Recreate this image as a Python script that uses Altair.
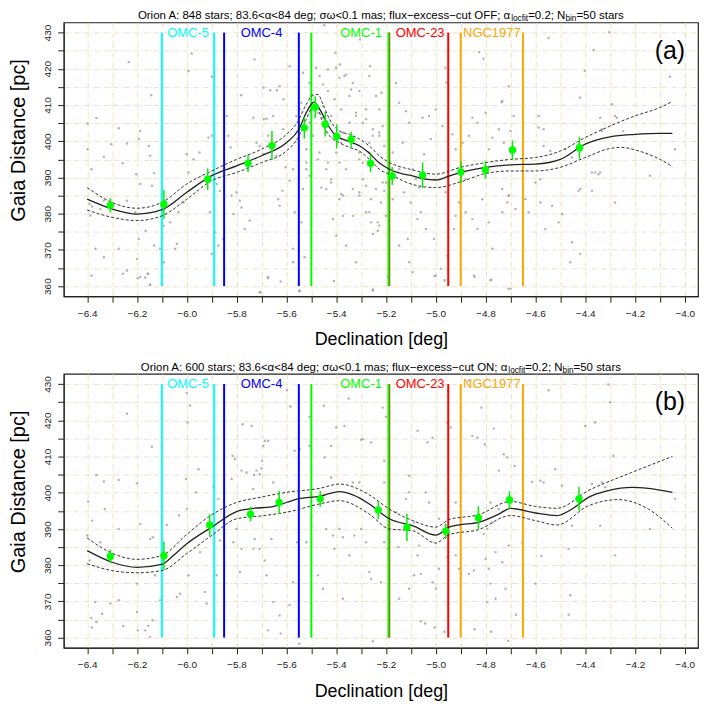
import altair as alt
import pandas as pd

FONT = "Liberation Sans"

# ---------------- data ----------------
region_names = ["OMC-5", "OMC-4", "OMC-1", "OMC-23", "NGC1977"]
region_lo = [-6.10, -5.85, -5.50, -5.187, -4.90]
region_hi = [-5.89, -5.55, -5.19, -4.95, -4.65]
region_label_x = [-5.995, -5.70, -5.30, -5.063, -4.775]
region_colors = ["#00FFFF", "#0000FF", "#00FF00", "#FF0000", "#FFA500"]

x_ticks = [round(-6.4 + 0.1 * i, 1) for i in range(25)]
y_ticks = list(range(360, 431, 5))

# panel (a): binned means (green)
ga_x = [-6.307, -6.092, -5.916, -5.754, -5.658, -5.528, -5.484, -5.444, -5.398, -5.34,
        -5.262, -5.175, -5.053, -4.899, -4.801, -4.692, -4.423]
ga_y = [382.3, 382.6, 389.5, 393.9, 398.8, 403.7, 409.4, 404.7, 401.3, 400.5,
        393.9, 390.4, 390.6, 391.5, 392.1, 397.6, 398.2]
ga_e = [2.0, 4.0, 3.0, 2.4, 4.0, 3.0, 3.0, 3.4, 3.3, 2.1, 2.4, 2.5, 3.5, 3.0, 2.4, 2.6, 3.0]

# panel (a): locfit curve and band
sa_x = [-6.40, -6.30, -6.20, -6.10, -6.00, -5.90, -5.80, -5.70, -5.60, -5.55, -5.52, -5.50,
        -5.49, -5.45, -5.427, -5.40, -5.35, -5.30, -5.27, -5.23, -5.19, -5.13, -5.10, -5.05,
        -5.00, -4.95, -4.90, -4.80, -4.70, -4.60, -4.50, -4.40, -4.30, -4.20, -4.10, -4.05]
sa_y = [384.0, 381.3, 379.9, 381.1, 385.9, 390.5, 393.2, 396.0, 399.6, 403.3, 407.9, 410.2,
        410.8, 406.8, 403.8, 401.5, 400.0, 398.5, 396.9, 394.2, 392.4, 390.9, 390.6, 389.6,
        389.3, 390.3, 391.4, 392.8, 393.5, 393.7, 395.0, 399.2, 401.2, 401.9, 402.2, 402.2]
ua_x = [-6.40, -6.30, -6.20, -6.10, -6.00, -5.90, -5.80, -5.70, -5.60, -5.553, -5.52, -5.494,
        -5.473, -5.453, -5.427, -5.387, -5.347, -5.307, -5.267, -5.227, -5.173, -5.10, -5.00,
        -4.90, -4.80, -4.70, -4.60, -4.50, -4.40, -4.30, -4.20, -4.10, -4.05]
ua_y = [387.2, 383.1, 381.5, 383.1, 388.2, 391.8, 395.0, 397.8, 401.9, 405.6, 410.2, 412.7,
        412.9, 410.2, 406.1, 402.8, 401.9, 400.6, 398.7, 396.0, 393.7, 392.2, 390.9,
        392.8, 394.1, 395.0, 395.5, 397.3, 401.0, 404.2, 407.0, 409.3, 411.0]
la_x = [-6.40, -6.30, -6.20, -6.10, -6.00, -5.90, -5.80, -5.70, -5.60, -5.553, -5.52, -5.494,
        -5.473, -5.453, -5.427, -5.387, -5.347, -5.307, -5.267, -5.227, -5.173, -5.10, -5.00,
        -4.90, -4.80, -4.70, -4.60, -4.50, -4.40, -4.30, -4.253, -4.20, -4.10, -4.05]
la_y = [381.0, 379.0, 378.1, 379.4, 384.0, 389.1, 391.4, 394.1, 397.3, 401.0, 406.1, 409.3,
        408.8, 404.7, 401.5, 399.6, 398.3, 397.3, 395.0, 392.3, 390.5, 388.2, 387.2,
        388.8, 391.1, 391.8, 391.8, 392.8, 395.5, 398.0, 398.3, 397.6, 395.0, 393.0]

# panel (a): individual stars (grey)
dots_a = [
    (-6.363, 406.4), (-6.273, 403.6), (-6.333, 395.7), (-6.383, 392.3), (-6.257, 393.9), (-6.24, 399.4),
    (-6.304, 399.2), (-6.187, 402.8), (-6.193, 400.6), (-6.153, 398.7), (-6.147, 396.0), (-6.203, 390.9),
    (-6.187, 388.2), (-6.14, 387.7), (-6.131, 391.2), (-6.24, 383.6), (-6.333, 383.6), (-6.38, 382.0),
    (-6.347, 381.3), (-6.367, 370.3), (-6.383, 362.9), (-6.333, 368.0), (-6.273, 370.3), (-6.257, 363.4),
    (-6.24, 364.3), (-6.2, 367.5), (-6.187, 362.5), (-6.157, 363.4), (-6.147, 360.4), (-6.193, 373.0),
    (-6.207, 380.4), (-6.165, 375.3), (-6.131, 371.2), (-6.093, 376.7), (-6.107, 370.3), (-6.091, 366.6),
    (-6.04, 371.7), (-6.047, 370.3), (-6.067, 377.6), (-6.033, 380.4), (-6.013, 383.1), (-5.993, 391.4),
    (-6.0, 396.4), (-5.973, 395.0), (-5.949, 396.9), (-5.913, 401.0), (-5.9, 401.5), (-5.88, 388.2),
    (-5.867, 386.3), (-5.9, 368.9), (-5.907, 380.4), (-5.887, 374.9), (-5.873, 371.2), (-5.853, 373.0),
    (-5.84, 407.0), (-5.833, 401.5), (-5.824, 398.3), (-5.82, 385.0), (-5.813, 379.9), (-5.8, 385.9),
    (-5.787, 383.6), (-5.78, 381.7), (-5.767, 375.8), (-5.747, 378.1), (-5.733, 406.5), (-5.72, 399.6),
    (-5.707, 398.7), (-5.693, 396.4), (-5.691, 406.1), (-5.68, 406.2), (-5.673, 401.5), (-5.673, 362.5),
    (-5.707, 358.3), (-5.653, 407.0), (-5.64, 396.0), (-5.613, 403.3), (-5.616, 386.3), (-5.633, 384.0),
    (-5.627, 382.2), (-5.603, 392.8), (-5.587, 389.1), (-5.573, 392.3), (-5.567, 380.4), (-5.547, 408.8),
    (-5.52, 397.8), (-5.507, 405.1), (-5.52, 392.3), (-5.54, 377.6), (-5.573, 370.3), (-5.547, 358.8),
    (-5.527, 368.0), (-5.56, 407.0), (-5.493, 401.5), (-5.473, 395.0), (-5.453, 409.7), (-5.44, 392.3),
    (-5.42, 389.5), (-5.44, 386.8), (-5.4, 396.9), (-5.387, 394.1), (-5.38, 399.6), (-5.373, 402.4),
    (-5.347, 405.1), (-5.32, 407.0), (-5.307, 396.9), (-5.293, 394.1), (-5.28, 408.8), (-5.267, 399.6),
    (-5.253, 403.3), (-5.227, 401.5), (-5.207, 398.7), (-5.387, 384.0), (-5.373, 379.4), (-5.36, 371.2),
    (-5.413, 378.5), (-5.4, 373.9), (-5.373, 385.0), (-5.333, 379.4), (-5.307, 385.9), (-5.267, 380.4),
    (-5.233, 377.6), (-5.22, 383.1), (-5.2, 379.4), (-5.32, 366.6), (-5.573, 366.6),
    (-5.293, 405.1), (-5.253, 401.5), (-5.227, 402.4), (-5.12, 408.3), (-5.107, 405.1), (-5.053, 406.5),
    (-5.027, 407.0), (-5.0, 408.8), (-5.133, 399.6), (-5.173, 396.9), (-5.093, 392.3), (-5.08, 389.5),
    (-5.047, 396.4), (-5.02, 400.6), (-4.973, 404.2), (-4.933, 401.9), (-4.92, 397.8), (-4.893, 399.6),
    (-4.867, 401.5), (-4.853, 406.5), (-4.833, 405.1), (-4.8, 407.9), (-4.787, 397.8), (-4.773, 401.0),
    (-4.747, 403.3), (-4.727, 399.6), (-4.7, 402.8), (-4.687, 407.0), (-4.68, 397.8), (-4.587, 407.0),
    (-4.567, 398.7), (-4.54, 397.3), (-4.48, 397.8), (-4.453, 395.5), (-4.34, 406.5), (-4.333, 402.8),
    (-4.273, 406.5), (-4.247, 402.8), (-4.04, 397.8), (-4.14, 390.5), (-4.373, 391.4), (-4.347, 390.9),
    (-5.307, 385.0), (-5.28, 380.4), (-5.26, 384.0), (-5.227, 376.7), (-5.207, 386.3), (-5.187, 380.4),
    (-5.173, 384.0), (-5.147, 371.2), (-5.113, 373.0), (-5.1, 383.1), (-5.073, 378.5), (-5.06, 380.4),
    (-5.04, 375.8), (-5.007, 373.0), (-4.98, 364.8), (-5.0, 362.9), (-4.953, 368.4), (-4.927, 375.8),
    (-4.92, 379.4), (-4.907, 383.1), (-4.88, 380.4), (-4.853, 378.5), (-4.833, 375.8), (-4.847, 362.9),
    (-4.813, 384.0), (-4.787, 377.6), (-4.773, 370.3), (-4.78, 361.6), (-4.733, 380.4), (-4.713, 383.1),
    (-4.707, 385.0), (-4.68, 381.3), (-4.64, 384.0), (-4.627, 380.4), (-4.6, 388.6), (-4.58, 389.5),
    (-4.56, 375.8), (-4.533, 382.2), (-4.507, 377.6), (-4.453, 372.1), (-4.42, 386.8), (-4.46, 366.6),
    (-4.42, 368.9), (-4.28, 383.1), (-5.26, 377.6), (-5.253, 374.4), (-5.233, 375.3), (-5.107, 366.6),
    (-5.093, 363.9), (-4.7, 359.3), (-5.253, 358.8), (-5.28, 387.7), (-5.213, 388.6), (-5.147, 392.3),
    (-5.127, 385.9), (-5.067, 387.2), (-4.96, 385.9), (-4.88, 389.5), (-4.733, 386.8),
    (-6.233, 421.9), (-5.98, 424.2), (-5.9, 417.8), (-5.993, 419.4), (-6.143, 412.7), (-5.782, 412.7),
    (-5.728, 422.6), (-5.692, 414.8), (-5.665, 414.1), (-5.638, 414.1), (-5.611, 411.6), (-5.448, 432.0),
    (-5.403, 424.4), (-5.385, 421.2), (-5.367, 418.0), (-5.34, 414.3), (-5.304, 428.1), (-5.264, 420.7),
    (-5.218, 413.4), (-4.961, 420.3), (-4.958, 416.2), (-4.826, 424.6), (-4.808, 422.8), (-4.736, 410.8),
    (-4.547, 428.5), (-4.402, 419.4), (-4.366, 425.2), (-4.06, 417.8), (-4.303, 430.1),
    (-5.48, 420.3), (-5.467, 418.0), (-5.453, 415.7), (-5.433, 419.8), (-5.4, 420.3), (-5.387, 417.5),
    (-5.36, 418.4), (-5.333, 416.1), (-5.433, 413.9), (-5.5, 412.9), (-5.507, 416.1), (-5.407, 411.6),
    (-5.347, 412.5), (-5.307, 413.9), (-5.267, 418.0), (-5.24, 412.5), (-5.54, 410.6), (-5.533, 418.9),
    (-5.587, 420.7), (-5.627, 415.2), (-5.473, 407.9), (-5.453, 406.5), (-5.42, 407.0), (-5.38, 408.8),
    (-5.32, 407.9), (-5.28, 406.1), (-5.227, 408.8), (-5.213, 404.2), (-5.16, 416.1), (-5.147, 410.6),
    (-5.467, 396.9), (-5.433, 394.1), (-5.36, 392.3), (-5.307, 395.0), (-5.267, 396.9), (-5.507, 390.5),
    (-5.46, 387.2), (-5.42, 388.6), (-5.38, 385.4), (-5.333, 386.8), (-5.293, 389.5), (-5.24, 386.8),
    (-5.2, 388.6), (-5.153, 391.4), (-5.533, 386.8), (-5.52, 394.1),
    (-4.707, 415.2), (-4.733, 411.1), (-4.42, 412.0), (-4.293, 410.2), (-4.28, 407.0), (-4.587, 403.8),
    (-4.567, 403.3), (-4.333, 403.3), (-4.34, 391.4), (-4.36, 391.4), (-4.373, 386.3), (-4.493, 379.9),
    (-4.58, 383.1), (-4.427, 386.3), (-4.707, 385.0),
    (-6.398, 404.9), (-6.398, 397.8), (-6.39, 382.7), (-6.387, 379.5),
    (-6.197, 362.2), (-6.167, 362.4), (-6.155, 363.4), (-6.148, 360.4), (-5.704, 358.3), (-5.674, 362.2),
    (-5.623, 361.3), (-5.548, 358.6), (-5.409, 361.4), (-5.253, 359.1), (-5.192, 362.5), (-5.005, 362.8),
    (-4.965, 361.6), (-4.844, 362.5), (-4.778, 361.8), (-4.709, 359.3),
]

# panel (b): binned means (green)
gb_x = [-6.307, -6.092, -5.908, -5.744, -5.629, -5.464, -5.231, -5.116, -4.96, -4.829, -4.704, -4.425]
gb_y = [382.4, 382.6, 391.1, 394.1, 397.3, 398.3, 395.2, 390.4, 389.4, 393.1, 398.0, 398.3]
gb_e = [1.9, 3.9, 3.0, 2.0, 3.2, 2.2, 2.5, 3.7, 2.1, 3.2, 2.4, 3.3]

# panel (b): locfit curve and band
sb_x = [-6.40, -6.30, -6.20, -6.10, -6.053, -6.00, -5.90, -5.80, -5.733, -5.667, -5.60, -5.553,
        -5.467, -5.387, -5.333, -5.267, -5.187, -5.093, -5.00, -4.947, -4.907, -4.829, -4.747,
        -4.70, -4.60, -4.513, -4.453, -4.387, -4.307, -4.213, -4.147, -4.05]
sb_y = [384.0, 380.8, 379.4, 380.2, 382.7, 385.9, 390.5, 394.8, 395.7, 396.0, 397.3, 398.3,
        399.0, 400.3, 399.4, 396.9, 392.8, 390.9, 388.3, 390.5, 391.1, 391.8, 394.1,
        395.7, 394.4, 393.7, 395.5, 398.7, 400.6, 401.5, 401.2, 400.1]
ub_x = [-6.40, -6.30, -6.20, -6.10, -6.00, -5.90, -5.80, -5.70, -5.60, -5.467, -5.387, -5.267,
        -5.187, -5.093, -5.00, -4.947, -4.829, -4.70, -4.60, -4.513, -4.387, -4.213, -4.05]
ub_y = [387.5, 383.3, 381.6, 382.7, 388.5, 393.9, 397.3, 398.8, 400.1, 401.2, 402.4, 399.4,
        395.5, 392.3, 390.5, 392.6, 393.9, 397.6, 396.2, 395.7, 400.6, 405.6, 410.0]
lb_x = [-6.40, -6.30, -6.20, -6.10, -6.00, -5.90, -5.80, -5.70, -5.60, -5.467, -5.387, -5.267,
        -5.187, -5.093, -5.00, -4.947, -4.829, -4.70, -4.60, -4.513, -4.387, -4.267, -4.147, -4.05]
lb_y = [380.4, 378.5, 377.9, 378.5, 383.2, 388.2, 392.8, 393.6, 394.6, 396.9, 397.8, 394.1,
        390.0, 389.5, 386.1, 388.4, 389.8, 393.7, 392.3, 391.1, 396.4, 398.1, 395.5, 390.2]

# panel (b): individual stars (grey)
dots_b = [
    (-6.24, 421.8), (-5.987, 424.1), (-5.997, 419.4), (-6.14, 412.7), (-6.363, 404.9), (-6.333, 403.1),
    (-6.273, 403.5), (-6.2, 402.6), (-6.396, 397.6), (-6.329, 395.5), (-6.38, 392.3), (-6.187, 391.4),
    (-6.273, 390.0), (-6.147, 387.2), (-6.136, 387.7), (-6.08, 391.1), (-6.031, 393.7), (-6.0, 395.5),
    (-6.003, 403.8), (-5.953, 406.5), (-5.963, 400.1), (-5.893, 401.7), (-5.873, 398.3), (-5.816, 410.2),
    (-5.807, 409.3), (-5.776, 418.9), (-5.74, 418.4), (-5.693, 412.9), (-5.687, 414.3), (-5.673, 414.3),
    (-5.697, 408.8), (-5.72, 406.1), (-5.7, 406.7), (-5.707, 405.1), (-5.73, 404.9), (-5.76, 405.6),
    (-5.78, 406.1), (-5.82, 403.8), (-5.733, 401.0), (-5.653, 402.8), (-5.584, 423.8), (-5.567, 411.6),
    (-5.547, 412.0), (-5.507, 420.9), (-5.507, 412.9), (-5.4, 418.0), (-5.367, 418.4), (-5.293, 414.8),
    (-5.26, 413.9), (-5.213, 423.5), (-5.207, 402.8), (-5.307, 402.8), (-5.333, 402.8), (-5.42, 412.9),
    (-5.42, 404.2), (-5.447, 409.7), (-6.4, 388.2), (-6.347, 386.3), (-6.368, 369.8), (-6.34, 366.6),
    (-6.307, 369.4), (-6.273, 370.3), (-6.2, 374.9), (-6.2, 367.1), (-6.127, 377.2), (-6.107, 370.3),
    (-6.04, 371.2), (-6.027, 372.1), (-5.993, 377.2), (-5.927, 372.6), (-5.92, 369.4), (-5.867, 386.8),
    (-5.88, 377.2), (-5.947, 383.6), (-5.8, 390.0), (-5.813, 386.3), (-5.78, 384.5), (-5.787, 378.1),
    (-5.733, 384.5), (-5.727, 387.2), (-5.707, 384.5), (-5.687, 381.3), (-5.66, 387.2), (-5.68, 377.2),
    (-5.653, 369.8), (-5.627, 366.1), (-5.587, 369.0), (-5.573, 375.3), (-5.557, 386.3), (-5.52, 386.3),
    (-5.473, 377.2), (-5.453, 373.5), (-5.44, 390.0), (-5.413, 388.2), (-5.407, 384.5), (-5.387, 390.0),
    (-5.373, 387.7), (-5.347, 382.7), (-5.327, 388.2), (-5.373, 370.7), (-5.3, 390.0), (-5.267, 378.1),
    (-5.22, 375.3), (-5.207, 386.3), (-5.193, 384.5), (-6.39, 381.3), (-6.384, 365.4),
    (-5.3, 414.6), (-5.207, 408.8), (-5.107, 404.7), (-5.073, 417.1), (-5.033, 413.9), (-5.013, 415.2),
    (-4.953, 419.4), (-4.94, 418.0), (-4.853, 415.7), (-4.833, 415.2), (-4.803, 413.4), (-4.817, 423.5),
    (-4.767, 417.7), (-4.727, 410.6), (-4.713, 409.7), (-4.747, 406.1), (-4.683, 407.4), (-4.613, 403.0),
    (-4.58, 403.3), (-4.567, 402.8), (-4.52, 406.5), (-4.493, 401.9), (-4.4, 418.4), (-4.36, 419.4),
    (-4.287, 410.2), (-4.373, 402.4), (-4.333, 402.8), (-4.32, 401.5), (-4.04, 398.3), (-4.14, 390.0),
    (-4.28, 382.7), (-4.34, 390.9), (-4.453, 390.9), (-4.467, 384.5), (-4.46, 371.7), (-4.576, 382.5),
    (-4.6, 374.9), (-4.653, 386.3), (-4.707, 385.4), (-4.7, 397.3), (-4.747, 395.5), (-4.78, 397.3),
    (-4.773, 391.8), (-4.793, 390.0), (-4.807, 388.6), (-4.76, 383.6), (-4.8, 381.7), (-4.733, 380.8),
    (-4.787, 379.0), (-4.78, 374.9), (-4.76, 370.7), (-4.793, 369.8), (-4.72, 373.5), (-4.847, 378.5),
    (-4.867, 377.6), (-4.907, 379.0), (-4.92, 382.7), (-4.9, 392.8), (-4.92, 397.3), (-4.947, 389.1),
    (-4.953, 382.2), (-4.987, 379.0), (-5.0, 373.5), (-5.013, 375.3), (-5.067, 385.4), (-5.073, 382.7),
    (-5.06, 377.6), (-5.087, 377.2), (-5.107, 373.5), (-5.15, 385.0), (-5.147, 370.7), (-5.26, 376.2),
    (-5.28, 386.3), (-5.107, 400.1), (-5.12, 398.3), (-5.16, 394.6), (-5.087, 391.8), (-5.04, 400.1),
    (-5.027, 397.3), (-4.987, 392.8),
    (-6.381, 362.8), (-6.363, 364.3), (-6.255, 363.2), (-6.197, 362.0), (-6.167, 362.0), (-6.155, 363.2),
    (-6.137, 364.8), (-6.148, 360.2), (-5.674, 362.0), (-5.623, 361.1), (-5.548, 358.3), (-5.253, 359.0),
    (-5.06, 364.5), (-5.043, 363.9), (-5.005, 362.8), (-4.965, 361.6), (-4.844, 362.3), (-4.778, 361.6),
    (-4.709, 359.1), (-4.678, 366.3), (-4.466, 366.3),
    (-5.598, 428.3), (-4.867, 431.0), (-4.547, 428.3), (-4.307, 429.9), (-5.45, 424.0), (-5.35, 426.0),
    (-5.2, 421.0), (-4.95, 428.0), (-4.3, 425.0), (-6.0, 427.5),
]

title_a = [("Orion A: 848 stars; 83.6<α<84 deg; σω<0.1 mas; flux−excess−cut OFF; α", False),
           ("locfit", True), ("=0.2; N", False), ("bin", True), ("=50 stars", False)]
title_b = [("Orion A: 600 stars; 83.6<α<84 deg; σω<0.1 mas; flux−excess−cut ON; α", False),
           ("locfit", True), ("=0.2; N", False), ("bin", True), ("=50 stars", False)]

# panel letter anchor (data coordinates)
letter_dec = -4.06
letter_dist = 425

# ---------------- layout / style ----------------
W, H = 637, 275
X_DOMAIN = [-6.494, -3.947]
Y_DOMAIN = [357.2, 432.8]
TITLE_FS, SUB_FS = 11.5, 8.3

AFM = {' ': 278, '.': 278, ',': 278, ':': 278, ';': 278, '<': 584, '=': 584, '>': 584, '-': 333,
       '−': 584, 'α': 578, 'σ': 617, 'ω': 781,
       'A': 667, 'C': 722, 'E': 667, 'F': 611, 'N': 722, 'O': 778,
       'a': 556, 'b': 556, 'c': 500, 'd': 556, 'e': 556, 'f': 278, 'g': 556, 'i': 222, 'l': 222,
       'm': 833, 'n': 556, 'o': 556, 'r': 333, 's': 500, 't': 278, 'u': 556, 'x': 500}


def tw(s, fs):
    return sum(AFM.get(c, 556) for c in s) * fs / 1000.0


GRID = dict(grid=True, gridColor="#EBE1C2", gridDash=[5, 2, 1, 2], gridWidth=1)

x_axis = alt.Axis(
    values=x_ticks,
    labelExpr="(round(datum.value*10) % 2 == 0) ? format(datum.value, '.1f') : ''",
    labelOverlap=False, labelFlush=False, labelFontSize=10, labelColor="#222",
    labelBaseline="middle", labelPadding=11, tickSize=6, tickColor="#222",
    domainColor="#222", title="Declination [deg]", titleFontSize=18, titleFontWeight="normal",
    titleBaseline="middle", titleY=43.5, titleColor="#000", **GRID,
)
y_axis = alt.Axis(
    values=y_ticks,
    labelExpr="(datum.value % 10 == 0) ? datum.label : ''",
    labelOverlap=False, labelFlush=False, labelFontSize=10, labelColor="#222",
    labelAngle=270, labelAlign="center", labelBaseline="middle", labelPadding=10,
    tickSize=6, tickColor="#222", domainColor="#222",
    title="Gaia Distance [pc]", titleFontSize=20, titleFontWeight="normal", titleColor="#000",
    titleAngle=270, titleAlign="center", titleBaseline="middle", titleX=-45, titleY=118, **GRID,
)
xs = alt.Scale(domain=X_DOMAIN, nice=False, zero=False)
ys = alt.Scale(domain=Y_DOMAIN, nice=False, zero=False)
col_scale = alt.Scale(domain=region_names, range=region_colors)


def X(f):
    return alt.X(f"{f}:Q", scale=xs, axis=x_axis)


def Y(f):
    return alt.Y(f"{f}:Q", scale=ys, axis=y_axis)


def make_panel(dots, sx, sy, ux, uy, lx, ly, gx, gy, ge, title, letter):
    dots_df = pd.DataFrame(dots, columns=["dec", "dist"])
    solid_df = pd.DataFrame({"dec": sx, "dist": sy})
    up_df = pd.DataFrame({"dec": ux, "dist": uy})
    lo_df = pd.DataFrame({"dec": lx, "dist": ly})
    g_df = pd.DataFrame({"dec": gx, "dist": gy, "err": ge})
    g_df["lo"] = g_df["dist"] - g_df["err"]
    g_df["hi"] = g_df["dist"] + g_df["err"]
    rules_df = pd.DataFrame({
        "name": region_names + region_names,
        "dec": region_lo + region_hi,
    })
    rules_df["y0"] = 360
    rules_df["y1"] = 430
    lab_df = pd.DataFrame({"name": region_names, "dec": region_label_x})
    lab_df["y"] = 430
    let_df = pd.DataFrame({"t": [letter], "dec": [letter_dec], "dist": [letter_dist]})

    layers = []
    layers.append(alt.Chart(dots_df).mark_circle(size=6, color="#9A9A9A", opacity=0.75)
                  .encode(x=X("dec"), y=Y("dist")))
    layers.append(alt.Chart(rules_df).mark_rule(strokeWidth=2)
                  .encode(x=X("dec"), y=Y("y0"), y2="y1:Q",
                          color=alt.Color("name:N", scale=col_scale, legend=None)))
    for d in (up_df, lo_df):
        layers.append(alt.Chart(d).mark_line(color="#333", strokeWidth=1, strokeDash=[3, 2],
                                             interpolate="monotone")
                      .encode(x=X("dec"), y=Y("dist")))
    layers.append(alt.Chart(solid_df).mark_line(color="#222", strokeWidth=1.3, interpolate="monotone")
                  .encode(x=X("dec"), y=Y("dist")))
    layers.append(alt.Chart(g_df).mark_rule(color="#00EE00", strokeWidth=1.5)
                  .encode(x=X("dec"), y=Y("lo"), y2="hi:Q"))
    layers.append(alt.Chart(g_df).mark_circle(color="#00FF00", size=55, opacity=1)
                  .encode(x=X("dec"), y=Y("dist")))
    layers.append(alt.Chart(lab_df).mark_text(fontSize=13, font=FONT, align="center", baseline="middle")
                  .encode(x=X("dec"), y=Y("y"), text="name:N",
                          color=alt.Color("name:N", scale=col_scale, legend=None)))
    layers.append(alt.Chart(let_df).mark_text(fontSize=25, font=FONT, color="#000",
                                              align="center", baseline="middle")
                  .encode(x=X("dec"), y=Y("dist"), text="t:N"))
    # title with subscripts
    total = sum(tw(s, SUB_FS if sub else TITLE_FS) for s, sub in title)
    pos = W / 2 - total / 2
    for s, sub in title:
        fs = SUB_FS if sub else TITLE_FS
        layers.append(alt.Chart(pd.DataFrame({"t": [s]})).mark_text(
            fontSize=fs, font=FONT, color="#000", align="left", baseline="middle",
            x=pos, y=(-3 if sub else -6)).encode(text="t:N"))
        pos += tw(s, fs)
    return alt.layer(*layers).properties(width=W, height=H)


pa = make_panel(dots_a, sa_x, sa_y, ua_x, ua_y, la_x, la_y, ga_x, ga_y, ga_e, title_a, "(a)")
pb = make_panel(dots_b, sb_x, sb_y, ub_x, ub_y, lb_x, lb_y, gb_x, gb_y, gb_e, title_b, "(b)")

chart = (alt.vconcat(pa, pb, spacing=11)
         .properties(padding={"left": 0, "top": 0, "right": 0, "bottom": 0})
         .configure(font=FONT)
         .configure_view(stroke="#222", strokeWidth=1.2))

chart.save("out.html", embed_options={"renderer": "svg", "actions": False})
